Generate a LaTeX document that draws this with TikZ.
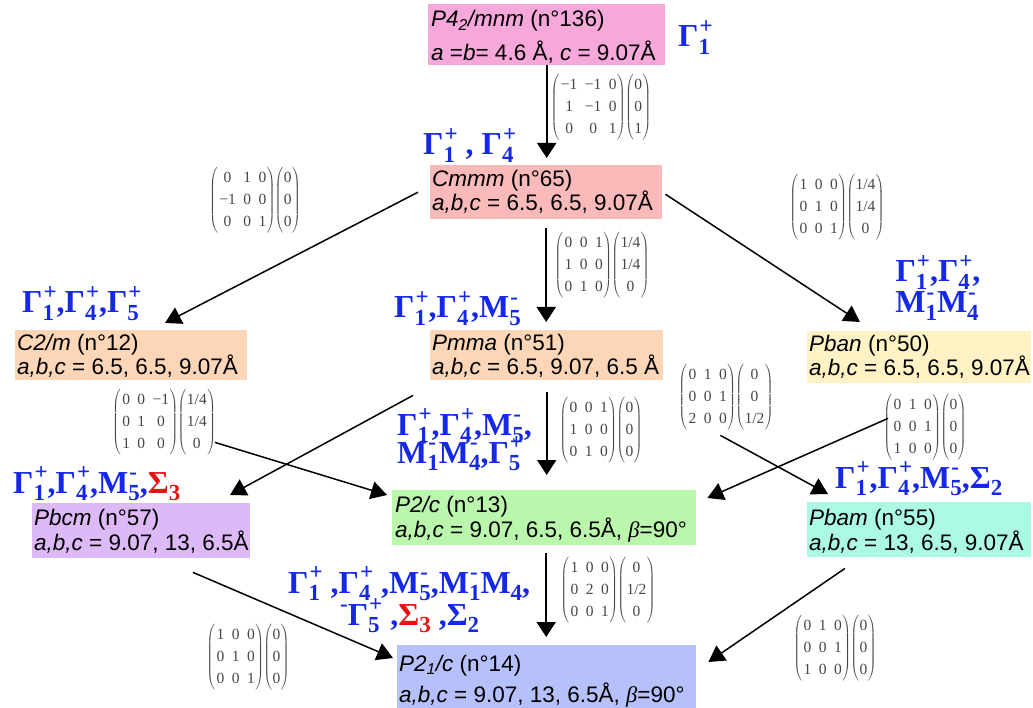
\documentclass[tikz,border=0pt]{standalone}
\usepackage{fontspec}
\setmainfont{Liberation Sans}
\newfontfamily\serifb{Liberation Serif}
\usetikzlibrary{arrows.meta,calc}
\definecolor{cpink}{RGB}{246,168,218}
\definecolor{cred}{RGB}{250,186,186}
\definecolor{cpeach}{RGB}{252,214,182}
\definecolor{cyellow}{RGB}{255,242,196}
\definecolor{cpurple}{RGB}{221,186,247}
\definecolor{cgreen}{RGB}{186,247,172}
\definecolor{caqua}{RGB}{172,250,228}
\definecolor{cblue}{RGB}{182,192,250}
\definecolor{lblue}{RGB}{20,40,230}
\definecolor{lred}{RGB}{230,20,20}
\definecolor{mgray}{RGB}{70,70,70}
\newcommand\irr[3]{#1\ooalign{\raisebox{-0.24em}{\fontsize{23}{23}\selectfont #2}\cr\raisebox{0.42em}{\fontsize{23}{23}\selectfont\hspace{1pt}#3}\cr}}
\newcommand\presup[1]{\raisebox{0.42em}{\fontsize{23}{23}\selectfont #1}}
\newcommand\mx[2]{$\left(\vcenter{\hbox{\begin{tabular}{@{\hspace{1.5pt}}c@{\hspace{7.5pt}}c@{\hspace{7.5pt}}c@{\hspace{0.5pt}}}#1\end{tabular}}}\right)\mkern-4mu\left(\vcenter{\hbox{\begin{tabular}{@{\hspace{0.5pt}}c@{\hspace{0.5pt}}}#2\end{tabular}}}\right)$}
\tikzset{
  box/.style={rectangle, draw=none, inner sep=0pt, anchor=north west},
  txt/.style={inner sep=0pt, anchor=base west, font=\fontsize{22.5}{27}\selectfont},
  lab/.style={inner sep=0pt, anchor=base west, text=lblue, font=\serifb\bfseries\fontsize{32}{36}\selectfont},
  mat/.style={inner sep=0pt, text=mgray, font=\serifb\fontsize{15.5}{22}\selectfont},
  arr/.style={-{Triangle[length=16pt,width=18pt]}, line width=1.5pt},
  varr/.style={-{Triangle[length=15pt,width=19pt]}, line width=2pt}
}
\begin{document}
\begin{tikzpicture}[x=1pt,y=-1pt]
\useasboundingbox (0,0) rectangle (1033,708);
% boxes
\node[box, fill=cpink, minimum width=237pt, minimum height=61pt] (top) at (428,4) {};
\node[box, fill=cred, minimum width=232pt, minimum height=54pt] (cmmm) at (430,165) {};
\node[box, fill=cpeach, minimum width=232pt, minimum height=50pt] (c2m) at (15,330) {};
\node[box, fill=cpeach, minimum width=233pt, minimum height=50pt] (pmma) at (430,330) {};
\node[box, fill=cyellow, minimum width=224pt, minimum height=52pt] (pban) at (807,331) {};
\node[box, fill=cpurple, minimum width=218pt, minimum height=55pt] (pbcm) at (32,503) {};
\node[box, fill=cgreen, minimum width=304pt, minimum height=55pt] (p2c) at (392,490) {};
\node[box, fill=caqua, minimum width=224pt, minimum height=55pt] (pbam) at (807,502) {};
\node[box, fill=cblue, minimum width=299pt, minimum height=63pt] (p21c) at (397,645) {};
% box texts
\node[txt] (ta1) at (431,27) {\textit{P4\textsubscript{2}/mnm} (n°136)};
\node[txt] (ta2) at (431,61) {\textit{a} =\textit{b}= 4.6 Å, \textit{c} = 9.07Å};
\node[txt] (tb1) at (432,187) {\textit{Cmmm} (n°65)};
\node[txt] (tb2) at (432,211) {\textit{a,b,c} = 6.5, 6.5, 9.07Å};
\node[txt] (tc1) at (17,351) {\textit{C2/m} (n°12)};
\node[txt] (tc2) at (17,374) {\textit{a,b,c} = 6.5, 6.5, 9.07Å};
\node[txt] (td1) at (432,351) {\textit{Pmma} (n°51)};
\node[txt] (td2) at (432,374) {\textit{a,b,c} = 6.5, 9.07, 6.5 Å};
\node[txt] (te1) at (809,352) {\textit{Pban} (n°50)};
\node[txt] (te2) at (809,375) {\textit{a,b,c} = 6.5, 6.5, 9.07Å};
\node[txt] (tf1) at (34,525) {\textit{Pbcm} (n°57)};
\node[txt] (tf2) at (34,550) {\textit{a,b,c} = 9.07, 13, 6.5Å};
\node[txt] (tg1) at (395,512) {\textit{P2/c} (n°13)};
\node[txt] (tg2) at (395,537) {\textit{a,b,c} = 9.07, 6.5, 6.5Å, {\serifb\itshape β}=90°};
\node[txt] (th1) at (809,525) {\textit{Pbam} (n°55)};
\node[txt] (th2) at (809,550) {\textit{a,b,c} = 13, 6.5, 9.07Å};
\node[txt] (ti1) at (399,671) {\textit{P2\textsubscript{1}/c} (n°14)};
\node[txt] (ti2) at (399,702) {\textit{a,b,c} = 9.07, 13, 6.5Å, {\serifb\itshape β}=90°};
% irrep labels
\node[lab] (l0) at (678,47) {\irr{Γ}{1}{+}};
\node[lab] (l1) at (423,155) {\irr{Γ}{1}{+} , \irr{Γ}{4}{+}};
\node[lab] (l2) at (22,313) {\irr{Γ}{1}{+},\irr{Γ}{4}{+},\irr{Γ}{5}{+}};
\node[lab] (l3) at (394,318) {\irr{Γ}{1}{+},\irr{Γ}{4}{+},\irr{M}{5}{-}};
\node[lab, anchor=base] (l4a) at (938,282) {\irr{Γ}{1}{+},\irr{Γ}{4}{+},};
\node[lab, anchor=base] (l4b) at (937,313) {\irr{M}{1}{-}\irr{M}{4}{-}};
\node[lab] (l5a) at (397,435) {\irr{Γ}{1}{+},\irr{Γ}{4}{+},\irr{M}{5}{-},};
\node[lab] (l5b) at (397,463) {\irr{M}{1}{-}\irr{M}{4}{-},\irr{Γ}{5}{+}};
\node[lab] (l6) at (13,493) {\irr{Γ}{1}{+},\irr{Γ}{4}{+},\irr{M}{5}{-},{\color{lred}\irr{Σ}{3}{}}};
\node[lab] (l7) at (835,488) {\irr{Γ}{1}{+},\irr{Γ}{4}{+},\irr{M}{5}{-},\irr{Σ}{2}{}};
\node[lab] (l8a) at (288,593) {\irr{Γ}{1}{+} ,\irr{Γ}{4}{+} ,\irr{M}{5}{-},\irr{M}{1}{-}\irr{M}{4}{},};
\node[lab] (l8b) at (340,625) {\presup{-}\irr{Γ}{5}{+} ,{\color{lred}\irr{Σ}{3}{}} ,\irr{Σ}{2}{}};
% matrices
\node[mat] (m1) at (601,107) {\mx{−1 & −1 & 0\\ 1 & −1 & 0\\ 0 & 0 & 1}{0\\ 0\\ 1}};
\node[mat] (m2) at (255,200) {\mx{0 & 1 & 0\\ −1 & 0 & 0\\ 0 & 0 & 1}{0\\ 0\\ 0}};
\node[mat] (m3) at (837,207) {\mx{1 & 0 & 0\\ 0 & 1 & 0\\ 0 & 0 & 1}{1/4\\ 1/4\\ 0}};
\node[mat] (m4) at (602,265) {\mx{0 & 0 & 1\\ 1 & 0 & 0\\ 0 & 1 & 0}{1/4\\ 1/4\\ 0}};
\node[mat] (m5) at (164,422) {\mx{0 & 0 & −1\\ 0 & 1 & 0\\ 1 & 0 & 0}{1/4\\ 1/4\\ 0}};
\node[mat] (m6) at (601,430) {\mx{0 & 0 & 1\\ 1 & 0 & 0\\ 0 & 1 & 0}{0\\ 0\\ 0}};
\node[mat] (m7) at (726,397) {\mx{0 & 1 & 0\\ 0 & 0 & 1\\ 2 & 0 & 0}{0\\ 0\\ 1/2}};
\node[mat] (m8) at (925,427) {\mx{0 & 1 & 0\\ 0 & 0 & 1\\ 1 & 0 & 0}{0\\ 0\\ 0}};
\node[mat] (m9) at (608,590) {\mx{1 & 0 & 0\\ 0 & 2 & 0\\ 0 & 0 & 1}{0\\ 1/2\\ 0}};
\node[mat] (m10) at (248,657) {\mx{1 & 0 & 0\\ 0 & 1 & 0\\ 0 & 0 & 1}{0\\ 0\\ 0}};
\node[mat] (m11) at (835,648) {\mx{0 & 1 & 0\\ 0 & 0 & 1\\ 1 & 0 & 0}{0\\ 0\\ 0}};
% arrows
\draw[varr] (top.south) -- ($(top.south |- cmmm.north)+(0,-7)$);
\draw[arr] ($(cmmm.west)+(-12,0)$) -- ($(c2m.north west)+(150,-7)$);
\draw[arr] ($(cmmm.east)+(3,2)$) -- ($(pban.north west)+(53,-9)$);
\draw[varr] ($(cmmm.south)+(0,9)$) -- ($(cmmm.south |- pmma.north)+(0,-8)$);
\draw[arr] ($(pmma.south west)+(-17,15)$) -- ($(pbcm.north west)+(198,-8)$);
\draw[arr] ($(c2m.south west)+(200,62)$) -- ($(p2c.north west)+(-5,5)$);
\draw[varr] ($(pmma.south)+(0,12)$) -- ($(pmma.south |- p2c.north)+(0,-15)$);
\draw[arr] ($(pmma.south east)+(57,55)$) -- ($(pbam.north west)+(21,-8)$);
\draw[arr] ($(pban.south west)+(81,35)$) -- ($(p2c.north east)+(11,8)$);
\draw[arr] ($(pbcm.south west)+(161,14)$) -- ($(p21c.north west)+(-4,13)$);
\draw[varr] ($(p2c.south)+(2,8)$) -- ($(p2c.south |- p21c.north)+(2,-8)$);
\draw[arr] ($(pbam.south west)+(38,11)$) -- ($(p21c.north east)+(12,17)$);
\end{tikzpicture}
\end{document}
